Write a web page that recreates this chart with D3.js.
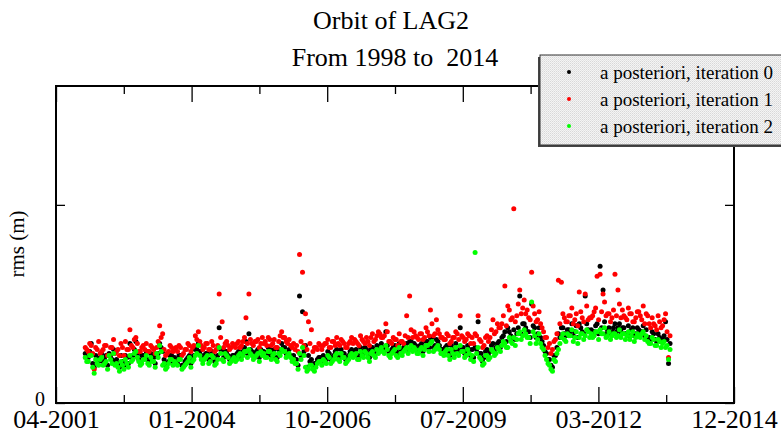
<!DOCTYPE html>
<html><head><meta charset="utf-8">
<script src="https://cdn.jsdelivr.net/npm/d3@7"></script>
<style>body{margin:0;background:#fff}svg{display:block}text{font-family:"Liberation Serif","Times New Roman",serif;fill:#000}</style>
</head><body><svg id="c" width="781" height="435"></svg>
<script>
const titleLines = ["Orbit of LAG2", "From 1998 to  2014"];
const yLabel = "rms (m)";
const seriesNames = ["a posteriori, iteration 0", "a posteriori, iteration 1", "a posteriori, iteration 2"];
const seriesColors = ["#000000", "#ff0000", "#00ff00"];
const xTickYears = [2001.30, 2004.034, 2006.768, 2009.502, 2012.236, 2014.97];
const xTickLabels = ["04-2001", "01-2004", "10-2006", "07-2009", "03-2012", "12-2014"];
const yTickValues = [0, 0.1];
const yTickLabels = ["0", ""];
// arc epochs, set A (decimal years)
const epochsA = [
2001.89,2001.95,2002.01,2002.07,2002.13,2002.19,2002.25,2002.31,2002.37,2002.43,
2002.49,2002.55,2002.61,2002.67,2002.73,2002.79,2002.85,2002.91,2002.97,2003.03,
2003.09,2003.15,2003.21,2003.27,2003.33,2003.39,2003.45,2003.51,2003.57,2003.63,
2003.69,2003.75,2003.81,2003.87,2003.93,2003.99,2004.05,2004.11,2004.17,2004.23,
2004.29,2004.35,2004.41,2004.47,2004.53,2004.59,2004.65,2004.71,2004.77,2004.83,
2004.89,2004.95,2005.01,2005.07,2005.13,2005.19,2005.25,2005.31,2005.37,2005.43,
2005.49,2005.55,2005.61,2005.67,2005.73,2005.79,2005.85,2005.91,2005.97,2006.03,
2006.09,2006.15,2006.21,2006.27,2006.33,2006.39,2006.45,2006.51,2006.57,2006.63,
2006.69,2006.75,2006.81,2006.87,2006.93,2006.99,2007.05,2007.11,2007.17,2007.23,
2007.29,2007.35,2007.41,2007.47,2007.53,2007.59,2007.65,2007.71,2007.77,2007.83,
2007.89,2007.95,2008.01,2008.07,2008.13,2008.19,2008.25,2008.31,2008.37,2008.43,
2008.49,2008.55,2008.61,2008.67,2008.73,2008.79,2008.85,2008.91,2008.97,2009.03,
2009.09,2009.15,2009.21,2009.27,2009.33,2009.39,2009.45,2009.51,2009.57,2009.63,
2009.69,2009.75,2009.81,2009.87,2009.93,2009.99,2010.05,2010.11,2010.17,2010.23,
2010.29,2010.35,2010.41,2010.47,2010.53,2010.59,2010.65,2010.71,2010.77,2010.83,
2010.89,2010.95,2011.01,2011.07,2011.13,2011.19,2011.25,2011.31,2011.37,2011.43,
2011.49,2011.55,2011.61,2011.67,2011.73,2011.79,2011.85,2011.91,2011.97,2012.03,
2012.09,2012.15,2012.21,2012.27,2012.33,2012.39,2012.45,2012.51,2012.57,2012.63,
2012.69,2012.75,2012.81,2012.87,2012.93,2012.99,2013.05,2013.11,2013.17,2013.23,
2013.29,2013.35,2013.41,2013.47,2013.53,2013.59,2013.65];
// rms values in millimetres, set A
const iter0A = [
25,23,30,18,22,23,21,24,25,22, 21,20,24,19,23,30,24,31,22,24,
23,22,25,23,24,30,26,19,21,24, 23,20,24,19,22,24,22,27,30,24,
24,25,22,24,22,38,27,26,24,22, 24,25,23,26,31,35,26,25,27,27,
26,24,27,25,23,27,30,28,25,24, 24,22,54,46,29,24,22,20,22,23,
24,22,25,23,26,24,27,25,23,26, 25,27,24,26,28,25,27,26,29,28,
28,36,26,27,29,25,27,28,30,31, 27,29,27,30,28,31,33,28,32,29,
27,28,26,29,25,27,38,28,26,27, 27,28,41,25,23,27,26,30,28,31,
33,36,38,34,37,35,54,40,38,36, 50,38,35,33,29,25,22,18,24,35,
38,35,37,36,34,39,40,36,54,37, 37,36,40,69,57,35,38,36,40,38,
36,38,35,34,38,35,37,36,34,33, 32,35,31,33,32,41,20];
const iter1A = [
28,26,29,17,27,25,27,29,24,28, 25,27,30,24,27,37,28,33,26,28,
27,26,29,27,28,39,35,24,26,28, 27,26,28,25,27,29,28,34,36,29,
28,30,27,29,27,55,41,30,29,28, 29,30,28,31,43,55,30,31,32,30,
30,29,32,30,28,31,36,33,30,29, 30,29,75,66,45,41,37,28,27,29,
29,30,28,31,29,30,32,30,28,31, 30,31,29,32,30,31,33,31,34,35,
33,40,31,30,32,29,31,30,44,54, 33,34,32,35,33,36,47,34,42,35,
33,32,34,31,33,35,44,33,32,34, 33,35,44,31,29,34,33,42,36,38,
40,59,49,42,98,44,57,48,45,43, 66,45,42,40,36,33,30,27,32,62,
61,43,41,44,40,45,56,43,55,42, 43,46,64,65,55,44,45,43,65,57,
43,44,42,45,41,43,46,42,40,44, 38,40,37,41,39,45,23];
const iter2A = [
23,21,24,15,20,22,19,21,24,20, 19,18,21,17,20,24,22,26,21,20,
22,20,23,21,25,29,19,17,20,22, 21,19,22,18,20,23,21,24,29,22,
22,24,21,23,20,28,22,25,23,21, 23,22,25,24,26,27,24,23,25,26,
25,23,26,24,22,25,27,26,24,23, 22,20,25,28,18,17,19,16,20,21,
22,20,23,21,24,22,25,23,21,24, 23,25,22,24,26,23,25,24,27,26,
26,29,24,25,27,23,25,26,28,27, 26,27,25,28,27,29,30,26,28,27,
25,26,24,27,23,25,29,26,24,25, 24,76,28,22,20,24,23,26,25,27,
29,30,28,31,33,32,36,34,35,33, 51,34,32,30,27,22,19,16,21,27,
33,32,35,34,31,36,33,35,34,36, 35,34,36,37,35,33,36,34,35,34,
33,35,34,32,36,33,34,35,32,31, 30,32,29,31,30,28,22];
// arc epochs, set B (decimal years)
const epochsB = [
2001.92,2001.98,2002.04,2002.10,2002.16,2002.22,2002.28,2002.34,2002.40,2002.46,
2002.52,2002.58,2002.64,2002.70,2002.76,2002.82,2002.88,2002.94,2003.00,2003.06,
2003.12,2003.18,2003.24,2003.30,2003.36,2003.42,2003.48,2003.54,2003.60,2003.66,
2003.72,2003.78,2003.84,2003.90,2003.96,2004.02,2004.08,2004.14,2004.20,2004.26,
2004.32,2004.38,2004.44,2004.50,2004.56,2004.62,2004.68,2004.74,2004.80,2004.86,
2004.92,2004.98,2005.04,2005.10,2005.16,2005.22,2005.28,2005.34,2005.40,2005.46,
2005.52,2005.58,2005.64,2005.70,2005.76,2005.82,2005.88,2005.94,2006.00,2006.06,
2006.12,2006.18,2006.24,2006.30,2006.36,2006.42,2006.48,2006.54,2006.60,2006.66,
2006.72,2006.78,2006.84,2006.90,2006.96,2007.02,2007.08,2007.14,2007.20,2007.26,
2007.32,2007.38,2007.44,2007.50,2007.56,2007.62,2007.68,2007.74,2007.80,2007.86,
2007.92,2007.98,2008.04,2008.10,2008.16,2008.22,2008.28,2008.34,2008.40,2008.46,
2008.52,2008.58,2008.64,2008.70,2008.76,2008.82,2008.88,2008.94,2009.00,2009.06,
2009.12,2009.18,2009.24,2009.30,2009.36,2009.42,2009.48,2009.54,2009.60,2009.66,
2009.72,2009.78,2009.84,2009.90,2009.96,2010.02,2010.08,2010.14,2010.20,2010.26,
2010.32,2010.38,2010.44,2010.50,2010.56,2010.62,2010.68,2010.74,2010.80,2010.86,
2010.92,2010.98,2011.04,2011.10,2011.16,2011.22,2011.28,2011.34,2011.40,2011.46,
2011.52,2011.58,2011.64,2011.70,2011.76,2011.82,2011.88,2011.94,2012.00,2012.06,
2012.12,2012.18,2012.24,2012.30,2012.36,2012.42,2012.48,2012.54,2012.60,2012.66,
2012.72,2012.78,2012.84,2012.90,2012.96,2013.02,2013.08,2013.14,2013.20,2013.26,
2013.32,2013.38,2013.44,2013.50,2013.56,2013.62,2013.68];
// rms values in millimetres, set B
const iter0B = [
23,26,20,24,21,25,22,19,24,27, 22,18,21,24,20,23,27,25,21,24,
26,21,23,20,25,28,22,20,24,21, 22,24,19,21,23,20,24,27,26,22,
25,22,26,21,24,27,23,26,22,24, 23,26,24,28,25,27,24,26,23,26,
25,28,24,27,23,26,28,25,27,23, 22,19,24,26,18,21,19,20,23,21,
23,26,22,24,27,23,25,22,24,27, 26,24,28,25,27,23,28,25,27,30,
27,29,25,28,26,30,26,29,27,31, 30,27,29,26,31,28,33,29,31,27,
26,29,24,27,30,26,28,25,29,24, 23,27,25,21,26,24,29,26,30,28,
34,31,36,33,32,38,35,40,36,33, 39,33,38,31,26,22,19,24,28,33,
38,34,37,40,36,33,38,35,40,36, 36,39,35,38,41,37,35,38,36,40,
38,35,39,37,34,38,36,39,37,33, 36,32,35,31,34,32,30];
const iter1B = [
27,30,25,28,31,26,29,24,28,32, 26,24,28,31,27,29,32,30,26,29,
30,26,28,25,31,33,27,25,29,26, 28,29,24,27,30,26,29,32,31,27,
30,27,31,26,29,33,28,31,27,30, 28,31,29,33,30,32,29,31,28,33,
31,33,29,32,28,34,33,31,32,28, 27,26,31,29,27,30,26,28,30,27,
30,32,28,31,33,29,31,28,30,33, 32,30,34,31,33,29,35,32,36,33,
34,36,31,33,32,35,31,34,33,37, 36,33,35,32,38,34,40,35,37,33,
32,35,30,33,36,32,34,31,35,30, 30,34,32,28,33,31,37,35,40,38,
44,39,47,43,41,50,45,52,47,42, 49,41,46,38,33,28,25,31,35,40,
45,41,44,48,42,39,46,41,49,43, 44,48,42,46,51,45,41,47,44,50,
47,43,48,45,41,46,44,49,45,40, 43,39,44,38,42,36,34];
const iter2B = [
21,24,18,22,19,23,20,17,22,25, 20,16,19,22,18,21,25,23,19,22,
24,19,21,18,23,26,20,18,22,19, 20,22,17,19,21,18,22,25,24,20,
23,20,24,19,22,25,21,24,20,22, 21,24,22,26,23,25,22,24,21,24,
23,26,22,25,21,24,26,23,25,21, 20,17,22,24,16,19,17,18,21,19,
21,24,20,22,25,21,23,20,22,25, 24,22,26,23,25,21,26,23,25,28,
25,27,23,26,24,28,24,27,25,29, 28,25,27,24,29,26,31,27,29,25,
24,27,22,25,28,24,26,23,27,22, 21,25,23,19,24,22,27,24,28,26,
31,28,33,30,29,35,32,37,33,30, 36,30,35,28,24,20,17,22,25,30,
35,31,34,37,33,30,35,32,37,33, 33,36,32,35,38,34,32,35,33,37,
35,32,36,34,31,35,33,36,34,30, 33,29,32,28,31,29,27];

const svg = d3.select("#c");
const L = 56, R = 734, T = 86, B = 403;
const x = d3.scaleLinear().domain([xTickYears[0], xTickYears[xTickYears.length-1]]).range([L, R]);
const y = d3.scaleLinear().domain([0, 0.16]).range([B, T]);
const minor = d3.pairs(xTickYears).map(p => (p[0]+p[1])/2);

// titles
svg.append("text").attr("x", 391).attr("y", 29).attr("text-anchor","middle").style("font-size","26px").text(titleLines[0]);
svg.append("text").attr("x", 395).attr("y", 66).attr("text-anchor","middle").style("font-size","26px").style("white-space","pre").text(titleLines[1]);

// y label
svg.append("text").attr("transform","translate(24,244) rotate(-90)").attr("text-anchor","middle").style("font-size","21px").text(yLabel);

// data points
const series = [
  [...epochsA.map((t,i)=>({t, v: iter0A[i]})), ...epochsB.map((t,i)=>({t, v: iter0B[i]}))],
  [...epochsA.map((t,i)=>({t, v: iter1A[i]})), ...epochsB.map((t,i)=>({t, v: iter1B[i]}))],
  [...epochsA.map((t,i)=>({t, v: iter2A[i]})), ...epochsB.map((t,i)=>({t, v: iter2B[i]}))]
];
series.forEach((pts, si) => {
  svg.append("g").selectAll("circle").data(pts).join("circle")
    .attr("cx", d => x(d.t))
    .attr("cy", d => y(d.v/1000))
    .attr("r", 2.5)
    .attr("fill", seriesColors[si]);
});

// axes
function styleAxis(g){ g.select(".domain").remove(); g.selectAll("line").attr("stroke","#000").attr("stroke-width",1.3); }
svg.append("g").attr("transform",`translate(0,${B})`)
  .call(d3.axisBottom(x).tickValues(xTickYears).tickSize(-16).tickPadding(7).tickFormat((d,i)=>xTickLabels[i]))
  .call(styleAxis).selectAll("text").style("font-size","26px").style("font-family","Liberation Serif");
svg.append("g").attr("transform",`translate(0,${B})`)
  .call(d3.axisBottom(x).tickValues(minor).tickSize(-8).tickFormat(""))
  .call(styleAxis);
svg.append("g").attr("transform",`translate(0,${T})`)
  .call(d3.axisTop(x).tickValues(xTickYears).tickSize(-16).tickFormat(""))
  .call(styleAxis);
svg.append("g").attr("transform",`translate(0,${T})`)
  .call(d3.axisTop(x).tickValues(minor).tickSize(-8).tickFormat(""))
  .call(styleAxis);
svg.append("g").attr("transform",`translate(${L},0)`)
  .call(d3.axisLeft(y).tickValues(yTickValues).tickSize(-9).tickPadding(11).tickFormat((d,i)=>yTickLabels[i]))
  .call(styleAxis).selectAll("text").attr("dy","0.1em").style("font-size","20px").style("font-family","Liberation Serif");
svg.append("g").attr("transform",`translate(${R},0)`)
  .call(d3.axisRight(y).tickValues(yTickValues).tickSize(-9).tickFormat(""))
  .call(styleAxis);
svg.append("rect").attr("x",L).attr("y",T).attr("width",R-L).attr("height",B-T)
  .attr("fill","none").attr("stroke","#000").attr("stroke-width",2);

// legend
const defs = svg.append("defs");
const pat = defs.append("pattern").attr("id","stip").attr("width",2).attr("height",2).attr("patternUnits","userSpaceOnUse");
pat.append("rect").attr("width",2).attr("height",2).attr("fill","#f4f4f4");
pat.append("rect").attr("width",1).attr("height",1).attr("fill","#d8d8d8");
pat.append("rect").attr("x",1).attr("y",1).attr("width",1).attr("height",1).attr("fill","#e4e4e4");
const lg = svg.append("g").attr("transform","translate(540,55)");
lg.append("rect").attr("x",-2).attr("y",2).attr("width",260).attr("height",90).attr("fill","#444");
lg.append("rect").attr("x",0).attr("y",0).attr("width",260).attr("height",90).attr("fill","url(#stip)").attr("stroke","#333").attr("stroke-width",1);
seriesNames.forEach((n,i) => {
  const ry = 17 + i*27;
  lg.append("circle").attr("cx",29).attr("cy",ry).attr("r",2).attr("fill",seriesColors[i]);
  lg.append("text").attr("x",60).attr("y",ry).attr("dy","0.35em").style("font-size","19px").text(n);
});
</script></body></html>
